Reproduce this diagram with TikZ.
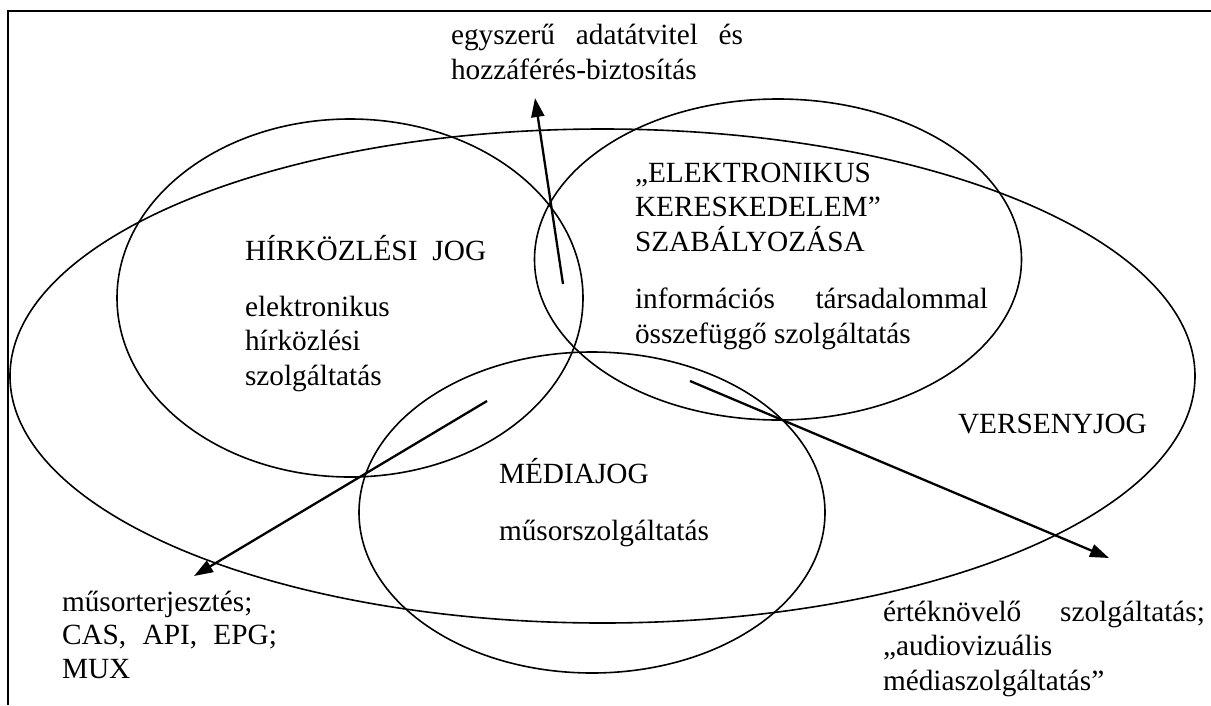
\documentclass[tikz,border=0pt]{standalone}
\usepackage{fontspec}
\setmainfont{Liberation Serif}
\usetikzlibrary{shapes.geometric,arrows.meta}
\begin{document}
\begin{tikzpicture}[x=1pt,y=-1pt,
  oval/.style={draw, ellipse, line width=1.6pt, inner sep=0pt, outer sep=0pt},
  txt/.style={inner sep=0pt, outer sep=0pt, align=left, anchor=base west,
    font=\fontsize{29.3}{34.5}\selectfont},
  arr/.style={line width=2.3pt, -{Triangle[length=19pt,width=13pt]}},
  frame/.style={line width=2pt}]
\useasboundingbox (0,0) rectangle (1211,705);
% frame
\coordinate (fr1) at (1211,10.5);
\coordinate (fr2) at (8,10.5);
\coordinate (fr3) at (8,705);
\draw[frame] (fr1) -- (fr2) -- (fr3);
% ovals
\node[oval, minimum width=1185pt, minimum height=494pt] (verseny) at (602.5,376) {};
\node[oval, minimum width=466pt, minimum height=358pt] (hirk) at (350,298) {};
\node[oval, minimum width=487pt, minimum height=321pt] (elker) at (778,259.5) {};
\node[oval, minimum width=466pt, minimum height=321pt] (media) at (592,512.5) {};
% texts (anchored at the baseline of the last line)
\node[txt] (tadat) at (451,79) {\hbox to 292pt{egyszerű\hfill adatátvitel\hfill és}\\hozzáférés-biztosítás};
\node[txt] (thirk) at (245,385) {HÍRKÖZLÉSI\hspace{15pt}JOG\\[21pt]elektronikus\\hírközlési\\szolgáltatás};
\node[txt] (telker) at (635,343) {„ELEKTRONIKUS\\KERESKEDELEM”\\SZABÁLYOZÁSA\\[23pt]\hbox to 353pt{információs\hfill társadalommal}\\összefüggő szolgáltatás};
\node[txt] (tmedia) at (499,540) {MÉDIAJOG\\[22pt]műsorszolgáltatás};
\node[txt] (tverseny) at (958,433) {VERSENYJOG};
\node[txt] (tmusor) at (62,678) {műsorterjesztés;\\[-1pt]\hbox to 215pt{CAS,\hfill API,\hfill EPG;}\\[-1pt]MUX};
\node[txt] (tertek) at (883,690) {\hbox to 322pt{értéknövelő\hfill szolgáltatás;}\\„audiovizuális\\médiaszolgáltatás”};
% arrows
\coordinate (a1s) at (563,284);
\coordinate (a1e) at (535,98);
\coordinate (a2s) at (487,401);
\coordinate (a2e) at (194,576);
\coordinate (a3s) at (690,381);
\coordinate (a3e) at (1109,558);
\draw[arr] (a1s) -- (a1e);
\draw[arr] (a2s) -- (a2e);
\draw[arr] (a3s) -- (a3e);
\end{tikzpicture}
\end{document}
